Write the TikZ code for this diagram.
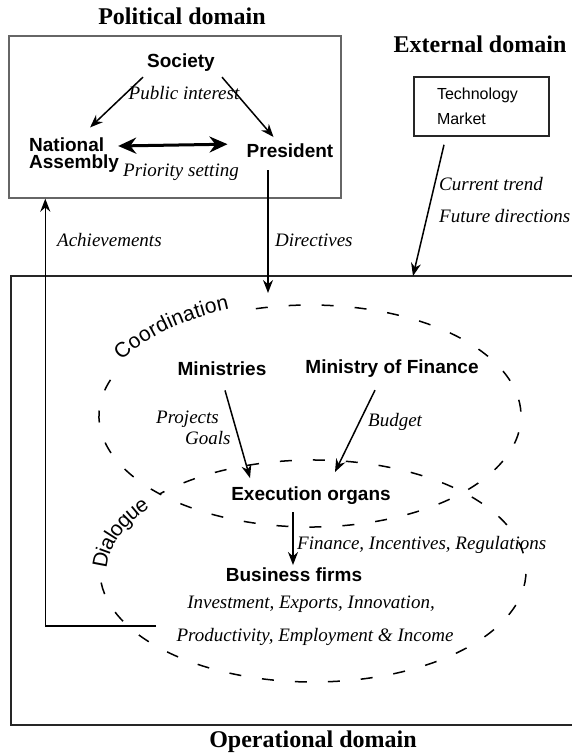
\documentclass[tikz,border=0pt]{standalone}
\usepackage{fontspec}
\setmainfont{Liberation Serif}
\setsansfont{Liberation Sans}
\usetikzlibrary{arrows.meta}
\usetikzlibrary{decorations.text}

\begin{document}
\begin{tikzpicture}[x=1pt,y=1pt,
  domtitle/.style={font=\bfseries\fontsize{24}{28}\selectfont,inner sep=0pt,anchor=base},
  actor/.style={font=\sffamily\bfseries\fontsize{19}{17}\selectfont,inner sep=0pt,anchor=base},
  note/.style={font=\itshape\fontsize{19}{21}\selectfont,inner sep=0pt,anchor=base west},
  flow/.style={-{Stealth[length=13pt,width=10pt]},line width=1.5pt},
  zone/.style={line width=1.5pt,dash pattern=on 12pt off 21pt}]
\useasboundingbox (0,0) rectangle (572,755);

% domains
\node[domtitle] (poltitle) at (182,730) {Political domain};
\node[domtitle] (exttitle) at (480,702) {External domain};
\node[domtitle] (optitle) at (313,8) {Operational domain};
\node[draw=black!60,line width=1.4pt,minimum width=332pt,minimum height=162pt,inner sep=0pt] (polbox) at (175,638) {};
\draw[draw=black!85,line width=2pt] (575,479) -- (11,479) -- (11,30) -- (575,30);

% political domain
\node[actor] (soc) at (181,687) {Society};
\node[actor,anchor=west,align=left] (na) at (29,600) {National\\Assembly};
\node[actor] (pres) at (290,597) {President};
\node[note,anchor=base] (pub) at (184,655) {Public interest};
\node[note,anchor=base] (prio) at (181,578) {Priority setting};
\draw[flow] ([shift={(-4pt,-5pt)}]soc.south west) -- ([shift={(16pt,10pt)}]na.north);
\draw[flow] ([shift={(7pt,-5pt)}]soc.south east) -- ([shift={(27pt,7pt)}]pres.north west);
\draw[{Stealth[length=18pt,width=16pt]}-{Stealth[length=18pt,width=16pt]},line width=3pt]
  ([shift={(-1pt,9pt)}]na.east) -- ([shift={(-19pt,7pt)}]pres.west);

% external domain
\node[draw=black!85,line width=1.6pt,minimum width=135pt,minimum height=59pt,inner xsep=23pt,
  text width=89pt,align=left,font=\sffamily\fontsize{16}{25}\selectfont] (tech) at (481.5,648.5) {Technology\\Market};
\node[note,anchor=north west,align=left,font=\itshape\fontsize{19}{32}\selectfont] (trend) at (439,578) {Current trend\\Future directions};
\coordinate (trendtip) at (413,479);
\draw[flow] ([shift={(-37.5pt,-8pt)}]tech.south) -- (trendtip);

% links between the domains
\coordinate (dirtip) at (268,462);
\draw[flow] ([shift={(-22pt,-12pt)}]pres.south) -- (dirtip);
\node[note] (dirlbl) at (275,508) {Directives};
\node[note] (achlbl) at (57,508) {Achievements};
\coordinate (achv) at (156,129);
\draw[flow] (achv) -| ([xshift=37pt]polbox.south west);

% coordination and dialogue
\draw[zone] (310,339) ++(161:211pt and 111pt) arc[start angle=161,end angle=467,x radius=211pt,y radius=111pt];
\draw[zone] (313,184) ++(186:213pt and 111pt) arc[start angle=186,end angle=496,x radius=213pt,y radius=111pt];
\path[decorate,decoration={text along path,text align=center,raise=4pt,
  text={|\sffamily\fontsize{21}{21}\selectfont|Coordination}}]
  (310,339) ++(158:211pt and 111pt) arc[start angle=158,end angle=108,x radius=211pt,y radius=111pt];
\path[decorate,decoration={text along path,text align=center,raise=-7pt,
  text={|\sffamily\fontsize{21}{21}\selectfont|Dialogue}}]
  (313,184) ++(185:213pt and 111pt) arc[start angle=185,end angle=137,x radius=213pt,y radius=111pt];

% operational domain
\node[actor] (min) at (222,379) {Ministries};
\node[actor] (mof) at (392,381) {Ministry of Finance};
\node[actor] (exec) at (311,254) {Execution organs};
\node[actor] (biz) at (294,173) {Business firms};
\node[note,anchor=north west,align=left] (proj) at (156,344) {Projects\\\hspace*{29pt}Goals};
\node[note] (bud) at (368,328) {Budget};
\node[note] (fin) at (297,205) {Finance, Incentives, Regulations};
\node[note,anchor=base] (inv) at (311,146) {Investment, Exports, Innovation,};
\node[note,anchor=base] (outc) at (315,113) {Productivity, Employment \& Income};
\draw[flow] ([shift={(3pt,-14pt)}]min.south) -- ([shift={(-61pt,9pt)}]exec.north);
\draw[flow] ([shift={(-17pt,-12pt)}]mof.south) -- ([shift={(24pt,15pt)}]exec.north);
\draw[flow] ([shift={(-18pt,-7pt)}]exec.south) -- ([shift={(-1pt,3pt)}]biz.north);

\end{tikzpicture}
\end{document}
